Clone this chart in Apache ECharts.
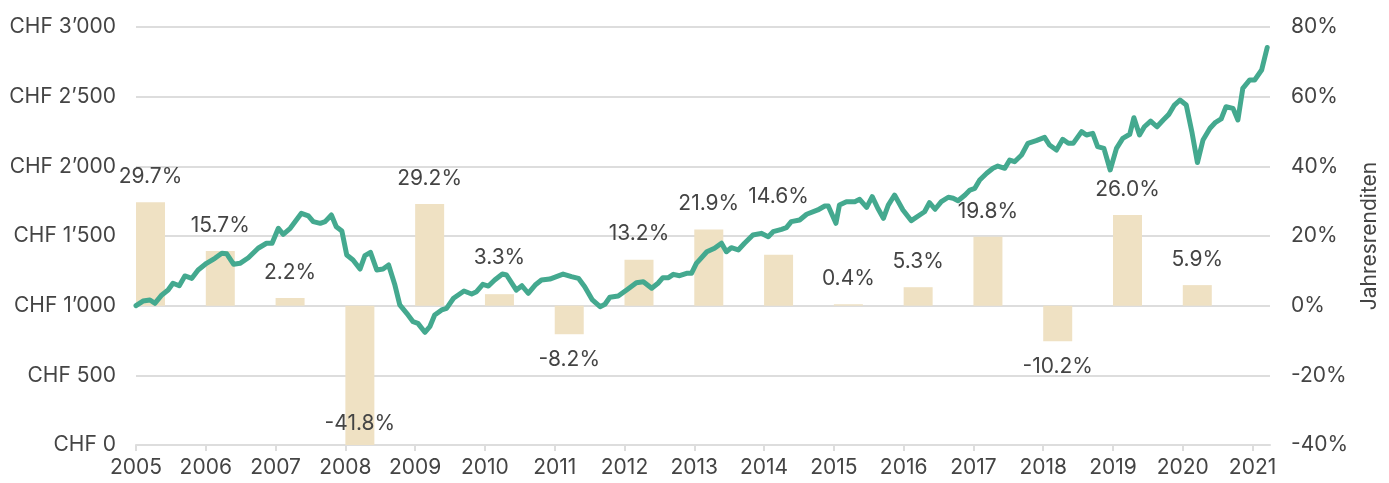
<!DOCTYPE html>
<html>
<head>
<meta charset="utf-8">
<script src="https://cdn.jsdelivr.net/npm/echarts@6/dist/echarts.min.js"></script>
<style>
  html, body { margin: 0; padding: 0; background: #fff; }
  #chart { width: 1389px; height: 483px; }
</style>
</head>
<body>
<div id="chart"></div>
<script>
// years on the x axis (tick labels)
const years = [2005, 2006, 2007, 2008, 2009, 2010, 2011, 2012, 2013, 2014, 2015, 2016, 2017, 2018, 2019, 2020, 2021];

// annual returns in %, one per year 2005..2020
const returnYears = [2005, 2006, 2007, 2008, 2009, 2010, 2011, 2012, 2013, 2014, 2015, 2016, 2017, 2018, 2019, 2020];
const returns = [29.7, 15.7, 2.2, -41.8, 29.2, 3.3, -8.2, 13.2, 21.9, 14.6, 0.4, 5.3, 19.8, -10.2, 26.0, 5.9];

// portfolio value in CHF (date as decimal year)
const dates = [
  2005.00, 2005.10, 2005.20, 2005.27, 2005.37, 2005.46, 2005.53, 2005.62, 2005.70, 2005.80,
  2005.89, 2006.01, 2006.13, 2006.23, 2006.30, 2006.40, 2006.49, 2006.61, 2006.75, 2006.87,
  2006.95, 2007.04, 2007.11, 2007.21, 2007.37, 2007.47, 2007.54, 2007.64, 2007.71, 2007.80,
  2007.87, 2007.95, 2008.02, 2008.11, 2008.21, 2008.28, 2008.36, 2008.45, 2008.54, 2008.62,
  2008.71, 2008.78, 2008.88, 2008.97, 2009.04, 2009.14, 2009.21, 2009.28, 2009.38, 2009.45,
  2009.55, 2009.70, 2009.81, 2009.88, 2009.97, 2010.05, 2010.14, 2010.25, 2010.31, 2010.45,
  2010.53, 2010.62, 2010.72, 2010.81, 2010.93, 2011.12, 2011.24, 2011.34, 2011.43, 2011.54,
  2011.65, 2011.72, 2011.79, 2011.91, 2012.05, 2012.17, 2012.27, 2012.39, 2012.48, 2012.55,
  2012.63, 2012.70, 2012.79, 2012.89, 2012.96, 2013.03, 2013.18, 2013.29, 2013.39, 2013.46,
  2013.53, 2013.63, 2013.72, 2013.84, 2013.96, 2014.06, 2014.13, 2014.25, 2014.32, 2014.39,
  2014.51, 2014.61, 2014.77, 2014.87, 2014.92, 2015.03, 2015.08, 2015.18, 2015.30, 2015.37,
  2015.47, 2015.55, 2015.63, 2015.71, 2015.78, 2015.87, 2015.99, 2016.11, 2016.23, 2016.30,
  2016.37, 2016.45, 2016.54, 2016.64, 2016.71, 2016.78, 2016.88, 2016.95, 2017.02, 2017.09,
  2017.19, 2017.28, 2017.35, 2017.45, 2017.52, 2017.59, 2017.69, 2017.78, 2017.90, 2018.02,
  2018.09, 2018.19, 2018.28, 2018.36, 2018.43, 2018.55, 2018.62, 2018.71, 2018.78, 2018.87,
  2018.96, 2019.05, 2019.14, 2019.24, 2019.30, 2019.38, 2019.45, 2019.54, 2019.63, 2019.72,
  2019.80, 2019.88, 2019.96, 2020.05, 2020.13, 2020.21, 2020.29, 2020.39, 2020.47, 2020.55,
  2020.62, 2020.72, 2020.79, 2020.86, 2020.96, 2021.03, 2021.13, 2021.21
];
const values = [
  1000, 1033, 1041, 1017, 1077, 1112, 1161, 1143, 1213, 1196,
  1256, 1304, 1340, 1376, 1372, 1297, 1304, 1344, 1412, 1448,
  1448, 1555, 1512, 1555, 1663, 1644, 1603, 1591, 1603, 1651,
  1567, 1536, 1364, 1328, 1263, 1359, 1383, 1256, 1263, 1292,
  1148, 1005, 945, 885, 873, 809, 849, 933, 969, 981,
  1053, 1105, 1084, 1100, 1153, 1141, 1184, 1227, 1220, 1112,
  1143, 1089, 1148, 1184, 1191, 1227, 1208, 1196, 1136, 1041,
  993, 1010, 1060, 1069, 1120, 1165, 1172, 1125, 1161, 1201,
  1201, 1225, 1215, 1232, 1232, 1304, 1387, 1412, 1448, 1387,
  1416, 1400, 1448, 1507, 1519, 1495, 1531, 1548, 1560, 1603,
  1615, 1656, 1687, 1715, 1715, 1591, 1722, 1746, 1746, 1763,
  1706, 1782, 1699, 1627, 1722, 1794, 1687, 1610, 1651, 1674,
  1739, 1692, 1746, 1778, 1771, 1753, 1794, 1830, 1842, 1902,
  1950, 1986, 2002, 1986, 2045, 2033, 2081, 2165, 2184, 2208,
  2153, 2117, 2194, 2165, 2165, 2249, 2225, 2237, 2141, 2129,
  1974, 2129, 2201, 2230, 2349, 2225, 2284, 2325, 2284, 2333,
  2373, 2440, 2476, 2440, 2249, 2027, 2189, 2273, 2316, 2340,
  2428, 2416, 2333, 2560, 2620, 2620, 2691, 2853
];

const textColor = '#444';
const gridColor = '#dddddd';
const fontFamily = 'Inter, "Noto Sans", sans-serif';
const retMin = -40;
// bars start at the year tick and are ~5 months wide
const barShift = 0.208;
// some labels are lifted so they stay clear of the line
const labelLift = { 2010: 11, 2014: 33 };

function chf(v) {
  const s = String(v);
  return 'CHF ' + (s.length > 3 ? s.slice(0, -3) + '\u2019' + s.slice(-3) : s);
}

const chart = echarts.init(document.getElementById('chart'), null, { renderer: 'canvas' });

const option = {
  animation: false,
  backgroundColor: '#fff',
  textStyle: { fontFamily: fontFamily, color: textColor },
  grid: { left: 136, right: 119, top: 27, bottom: 38, containLabel: false },
  xAxis: {
    type: 'value',
    min: 2005,
    max: 2021.25,
    interval: 1,
    axisLine: { show: true, lineStyle: { color: gridColor, width: 2 } },
    axisTick: { show: true, length: 6, customValues: years, lineStyle: { color: gridColor, width: 2 } },
    axisLabel: {
      customValues: years,
      color: textColor,
      fontSize: 21,
      fontFamily: fontFamily,
      margin: 12,
      formatter: (v) => String(v)
    },
    splitLine: { show: false }
  },
  yAxis: [
    {
      type: 'value',
      min: 0,
      max: 3000,
      interval: 500,
      axisLine: { show: false },
      axisTick: { show: false },
      axisLabel: { color: textColor, fontSize: 21, fontFamily: fontFamily, margin: 20, formatter: chf },
      splitLine: { show: true, lineStyle: { color: gridColor, width: 2 } }
    },
    {
      type: 'value',
      min: retMin,
      max: 80,
      interval: 20,
      position: 'right',
      name: 'Jahresrenditen',
      nameLocation: 'middle',
      nameRotate: 90,
      nameGap: 86,
      nameTextStyle: { color: textColor, fontSize: 21, fontFamily: fontFamily },
      axisLine: { show: false },
      axisTick: { show: false },
      axisLabel: { color: textColor, fontSize: 21, fontFamily: fontFamily, margin: 21, formatter: '{value}%' },
      splitLine: { show: false }
    }
  ],
  series: [
    {
      type: 'bar',
      yAxisIndex: 1,
      barWidth: 29,
      itemStyle: { color: '#efe1c3' },
      data: returns.map((r, i) => ({
        value: [returnYears[i] + barShift, r],
        label: {
          show: true,
          position: r >= 0 ? 'top' : (r < retMin ? 'insideBottom' : 'bottom'),
          distance: r < retMin ? 11 : 15 + (labelLift[returnYears[i]] || 0)
        }
      })),
      label: {
        color: textColor,
        fontSize: 21,
        fontFamily: fontFamily,
        formatter: (p) => p.value[1].toFixed(1) + '%'
      },
      z: 1
    },
    {
      type: 'line',
      yAxisIndex: 0,
      showSymbol: false,
      symbol: 'none',
      lineStyle: { color: '#44a98f', width: 5, cap: 'round', join: 'round' },
      data: dates.map((d, i) => [d, values[i]]),
      z: 3
    }
  ]
};

chart.setOption(option);
</script>
</body>
</html>
